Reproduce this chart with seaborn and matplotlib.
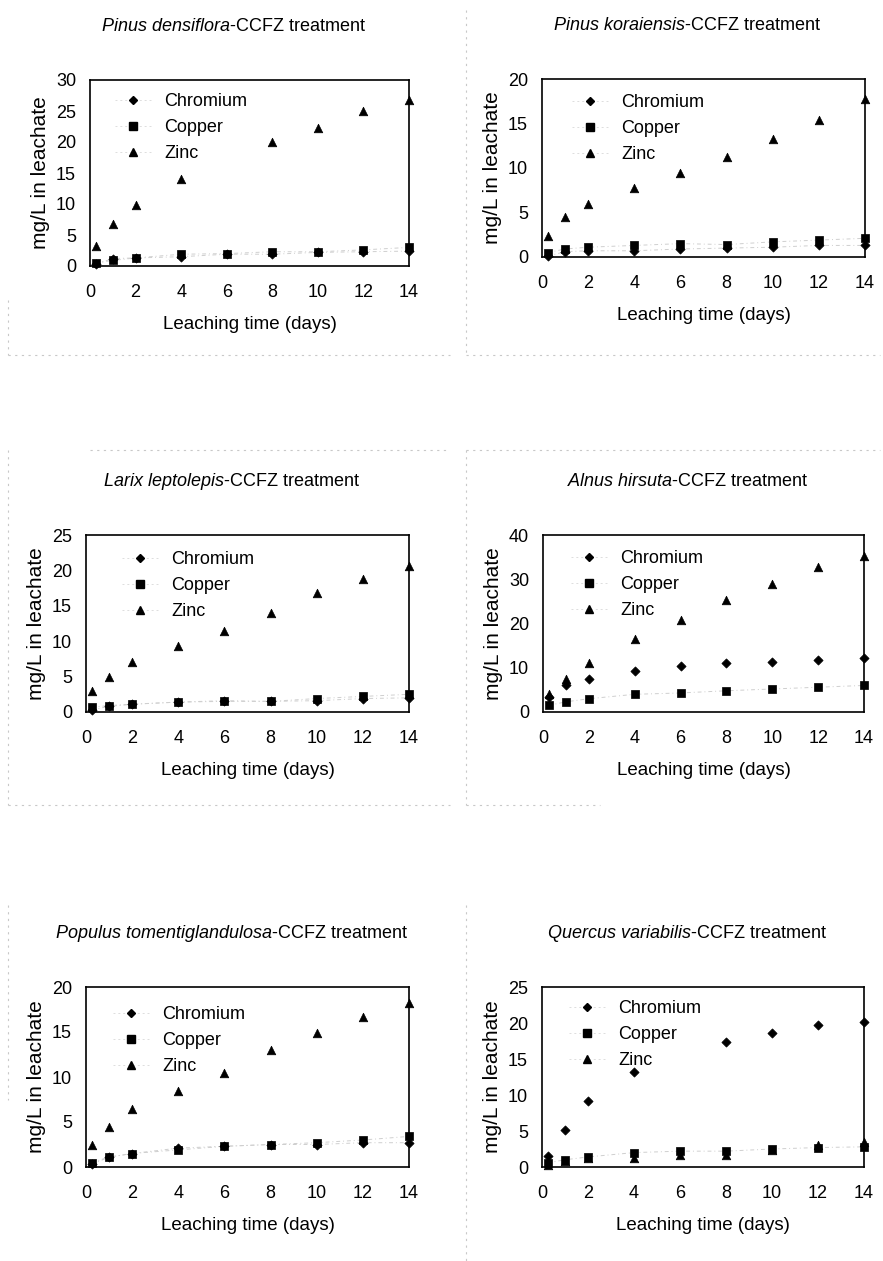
"""
Metal leaching from CCFZ-treated wood — six species, 3x2 panel figure.
"""

import matplotlib
matplotlib.use("Agg")

import matplotlib.pyplot as plt
import numpy as np
import pandas as pd
import seaborn as sns
from matplotlib.lines import Line2D

nan = np.nan

DAYS = [0.25, 1, 2, 4, 6, 8, 10, 12, 14]
METALS = ["Chromium", "Copper", "Zinc"]

SPECIES = [
    "Pinus densiflora",
    "Pinus koraiensis",
    "Larix leptolepis",
    "Alnus hirsuta",
    "Populus tomentiglandulosa",
    "Quercus variabilis",
]
Y_MAX = [30, 20, 25, 40, 20, 25]

# mg/L in leachate
PD_CR = [0.3, 1.2, 1.3, 1.5, 1.9, 1.9, 2.2, 2.3, 2.4]
PD_CU = [0.5, 0.9, 1.3, 1.9, 2.0, 2.3, 2.3, 2.6, 3.0]
PD_ZN = [3.2, 6.8, 9.8, 14.0, nan, 20.0, 22.3, 25.0, 26.7]

PK_CR = [0.1, 0.6, 0.7, 0.7, 0.9, 1.0, 1.1, 1.3, 1.3]
PK_CU = [0.5, 0.9, 1.1, 1.3, 1.5, 1.4, 1.7, 1.9, 2.1]
PK_ZN = [2.4, 4.5, 5.9, 7.7, 9.4, 11.2, 13.3, 15.4, 17.7]

LL_CR = [0.3, 0.8, 1.1, 1.4, 1.6, 1.5, 1.6, 1.9, 2.0]
LL_CU = [0.7, 0.9, 1.1, 1.4, 1.5, 1.5, 1.9, 2.2, 2.5]
LL_ZN = [3.0, 5.0, 7.0, 9.3, 11.4, 14.0, 16.8, 18.8, 20.6]

AH_CR = [3.3, 6.0, 7.5, 9.3, 10.5, 11.0, 11.4, 11.8, 12.2]
AH_CU = [1.5, 2.3, 3.0, 4.0, 4.3, 4.8, 5.2, 5.6, 6.0]
AH_ZN = [4.0, 7.5, 11.0, 16.5, 20.8, 25.3, 29.0, 32.8, 35.2]

PT_CR = [0.3, 1.1, 1.5, 2.1, 2.3, 2.5, 2.5, 2.7, 2.7]
PT_CU = [0.5, 1.1, 1.5, 1.9, 2.3, 2.5, 2.7, 3.0, 3.4]
PT_ZN = [2.4, 4.4, 6.4, 8.4, 10.5, 13.0, 14.9, 16.7, 18.2]

QV_CR = [1.5, 5.2, 9.2, 13.2, nan, 17.4, 18.6, 19.7, 20.2]
QV_CU = [0.6, 1.0, 1.4, 2.0, 2.2, 2.2, 2.5, 2.7, 2.8]
QV_ZN = [0.3, 0.9, 1.2, 1.3, 1.6, 1.6, 2.4, 3.0, 3.5]

SERIES = [
    (PD_CR, PD_CU, PD_ZN),
    (PK_CR, PK_CU, PK_ZN),
    (LL_CR, LL_CU, LL_ZN),
    (AH_CR, AH_CU, AH_ZN),
    (PT_CR, PT_CU, PT_ZN),
    (QV_CR, QV_CU, QV_ZN),
]

MARKERS = {"Chromium": "D", "Copper": "s", "Zinc": "^"}
SIZES = {"Chromium": 22, "Copper": 30, "Zinc": 38}
LINE_KW = dict(color="#cfcfcf", lw=0.7, linestyle=(0, (4, 3, 1, 3)))

# axes boxes in pixels: left, right, top, bottom
BOXES = [
    (90, 409, 80, 266),
    (542, 865, 79, 257),
    (86, 409, 535, 712),
    (543, 864, 535, 712),
    (86, 409, 987, 1167),
    (542, 864, 987, 1167),
]
# legend first-marker position (px from axes left, px below axes top)
LEG_POS = [(43, 23), (48, 25), (54, 26), (46, 25), (45, 29), (45, 23)]

W, H = 883, 1261
FS = 13

sns.set_style("white")
plt.rcParams["font.family"] = ["Liberation Sans", "DejaVu Sans"]
plt.rcParams["mathtext.fontset"] = "custom"
plt.rcParams["mathtext.rm"] = "Liberation Sans"
plt.rcParams["mathtext.it"] = "Liberation Sans:italic"
plt.rcParams.update({"text.color": "black", "axes.labelcolor": "black",
                     "xtick.color": "black", "ytick.color": "black"})


def long_frame(i: int) -> pd.DataFrame:
    rows = []
    for metal, vals in zip(METALS, SERIES[i]):
        for d, v in zip(DAYS, vals):
            rows.append({"day": d, "mgL": v, "metal": metal})
    return pd.DataFrame(rows)


def draw_panel(fig, i: int) -> None:
    l, r, t, b = BOXES[i]
    ax = fig.add_axes([l / W, 1 - b / H, (r - l) / W, (b - t) / H])
    df = long_frame(i)

    for metal in METALS:
        sub = df[df["metal"] == metal].dropna()
        # faint connectors only survive on the low Cr/Cu series in the scan
        if metal != "Zinc" and sub["mgL"].max() < 8:
            sns.lineplot(data=sub, x="day", y="mgL", ax=ax, legend=False,
                         **LINE_KW)
        sns.scatterplot(data=sub, x="day", y="mgL", ax=ax, color="black",
                        marker=MARKERS[metal], s=SIZES[metal],
                        edgecolor="black", linewidth=0.5, zorder=3,
                        clip_on=False, legend=False)

    ax.set_xlim(0, 14)
    ax.set_ylim(0, Y_MAX[i])
    ax.set_xticks(range(0, 15, 2))
    ax.set_yticks(np.arange(0, Y_MAX[i] + 1, 5 if Y_MAX[i] <= 30 else 10))
    ax.tick_params(axis="x", direction="in", length=4, width=0.8,
                   pad=13, labelsize=FS)
    ax.tick_params(axis="y", length=0, pad=10, labelsize=FS)
    for sp in ax.spines.values():
        sp.set_color("black")
        sp.set_linewidth(1.2)

    ax.set_xlabel("Leaching time (days)", fontsize=13.5, labelpad=11)
    ax.set_ylabel("mg/L in leachate", fontsize=15, labelpad=4)

    name = SPECIES[i].replace(" ", r"\ ")
    ax.set_title(r"$\it{" + name + "}$-CCFZ treatment", fontsize=13,
                 x=0.45, pad=35)

    handles = [
        Line2D([], [], lw=0.7, color="#dddddd", linestyle=(0, (2, 3)),
               marker=MARKERS[m], markersize=5.5 if m != "Chromium" else 4.5,
               markerfacecolor="black", markeredgecolor="black")
        for m in METALS
    ]
    mx, my = LEG_POS[i]
    em = FS * 100 / 72
    ax.legend(handles, METALS, loc="upper left", frameon=False,
              fontsize=FS, handlelength=2.0, handletextpad=0.75,
              labelspacing=0.5, borderpad=0, borderaxespad=0,
              bbox_to_anchor=((mx - em) / (r - l), 1 - (my - 10) / (b - t)))


def draw_scan_borders(fig) -> None:
    kw = dict(color="#c8c8c8", lw=0.8, linestyle=(0, (2, 4)))
    segs = [
        ((466, 466), (10, 355)),
        ((466, 466), (450, 805)),
        ((466, 466), (905, 1261)),
        ((8, 8), (300, 355)),
        ((8, 8), (450, 805)),
        ((8, 8), (905, 1100)),
        ((8, 450), (355, 355)),
        ((466, 880), (355, 355)),
        ((90, 450), (450, 450)),
        ((466, 880), (450, 450)),
        ((8, 450), (805, 805)),
        ((466, 600), (805, 805)),
    ]
    for xs, ys in segs:
        fig.add_artist(Line2D([x / W for x in xs], [1 - y / H for y in ys], **kw))


def main() -> None:
    fig = plt.figure(figsize=(W / 100, H / 100), dpi=100)
    for i in range(len(SPECIES)):
        draw_panel(fig, i)
    draw_scan_borders(fig)
    fig.savefig("out.png", dpi=100, facecolor="white")
    plt.close(fig)


if __name__ == "__main__":
    main()
